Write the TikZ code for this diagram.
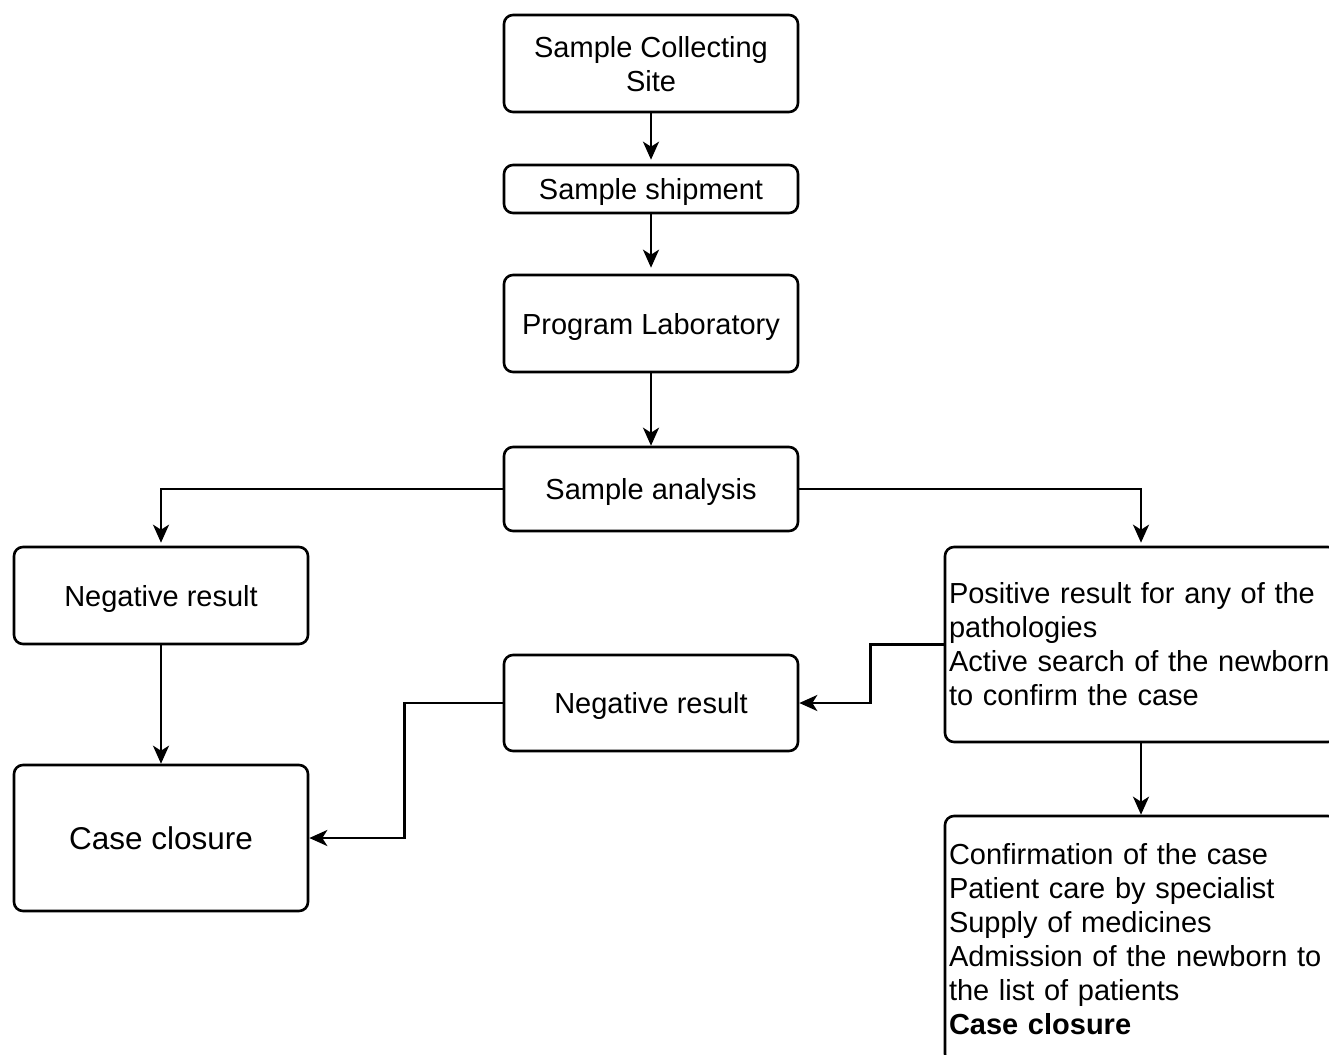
\documentclass[tikz,border=0pt]{standalone}
\usepackage{fontspec}
\setmainfont{Liberation Sans}
\usetikzlibrary{arrows.meta}
\begin{document}
\begin{tikzpicture}[x=1pt,y=-1pt,
  box/.style={draw, line width=2.6pt, rounded corners=9pt, minimum width=294pt,
    inner sep=0pt, font=\fontsize{29}{34}\selectfont, align=center},
  cbox/.style={box, text depth=0pt},
  tbox/.style={box, minimum width=392pt, text width=384pt, align=left},
  arr/.style={line width=2.6pt, -{Stealth[length=18pt,width=16pt,inset=5pt]}}]
\useasboundingbox (0,0) rectangle (1329,1054);
\clip (0,0) rectangle (1329,1054);
\node[cbox, minimum height=97pt] (site) at (651,63.5) {Sample Collecting\\Site};
\node[cbox, minimum height=48pt] (ship) at (651,189) {Sample shipment};
\node[cbox, minimum height=97pt] (lab) at (651,323.5) {Program Laboratory};
\node[cbox, minimum height=84pt] (ana) at (651,489) {Sample analysis};
\node[cbox, minimum height=97pt] (negL) at (161,595.5) {Negative result};
\node[cbox, minimum height=146pt, font=\fontsize{31.5}{37}\selectfont] (close) at (161,838) {Case closure};
\node[cbox, minimum height=96pt] (negM) at (651,703) {Negative result};
\node[tbox, minimum height=195pt] (pos) at (1141,644.5)
  {Positive result for any of the\\pathologies\\Active search of the newborn\\to confirm the case};
\node[tbox, minimum height=247pt, yshift=-1pt] (conf) at (1141,938.5)
  {Confirmation of the case\\Patient care by specialist\\Supply of medicines\\Admission of the newborn to\\the list of patients\\\textbf{Case closure}};
\draw[arr, shorten >=4pt] (site) -- (ship);
\draw[arr, shorten >=6pt] (ship) -- (lab);
\draw[arr] (lab) -- (ana);
\draw[arr, shorten >=3pt] (ana.west) -| (negL.north);
\draw[arr, shorten >=3pt] (ana.east) -| (pos.north);
\draw[arr] (negL) -- (close);
\draw[arr] (pos.west) -- ++(-73,0) |- (negM.east);
\draw[arr] (negM.west) -- ++(-98,0) |- (close.east);
\draw[arr] (pos) -- (conf);
\end{tikzpicture}
\end{document}
